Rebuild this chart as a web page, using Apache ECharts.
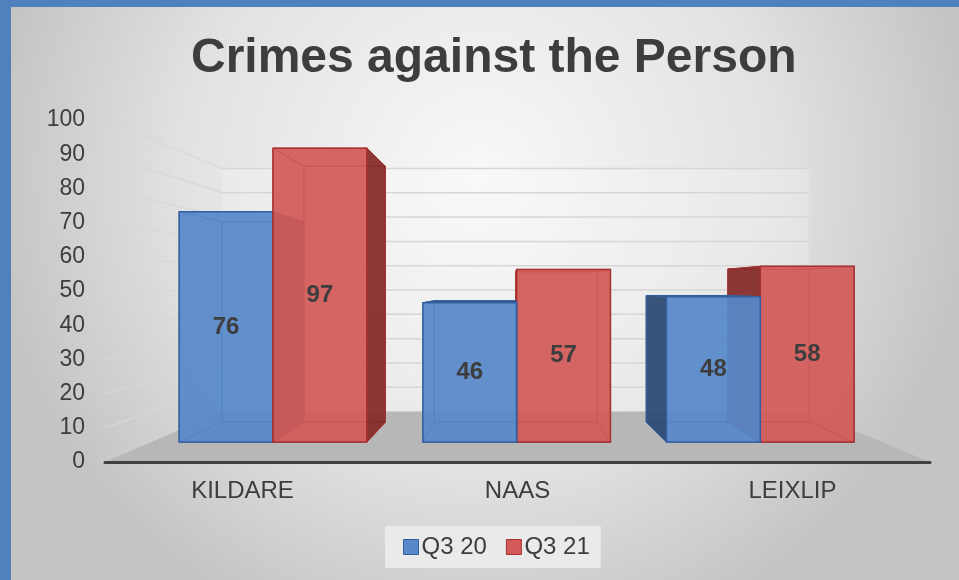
<!DOCTYPE html>
<html>
<head>
<meta charset="utf-8">
<script src="https://cdn.jsdelivr.net/npm/echarts/dist/echarts.min.js"></script>
<style>
  html, body { margin: 0; padding: 0; width: 959px; height: 580px; overflow: hidden; }
  #chart { position: absolute; left: 0; top: 0; width: 959px; height: 580px; }
  .frameTop { position: absolute; left: 0; top: 0; width: 959px; height: 7px; background: #4f81bd; z-index: 5; }
  .frameLeft { position: absolute; left: 0; top: 0; width: 11px; height: 580px; background: #4f81bd; z-index: 5; }
</style>
</head>
<body>
<div id="chart"></div>
<div class="frameTop"></div>
<div class="frameLeft"></div>
<script>
// ---- data ----
const categories = ['KILDARE', 'NAAS', 'LEIXLIP'];
const seriesNames = ['Q3 20', 'Q3 21'];
const q3_20 = [76, 46, 48];
const q3_21 = [97, 57, 58];
const yTicks = [0, 10, 20, 30, 40, 50, 60, 70, 80, 90, 100];

// ---- style / perspective constants ----
const FONT = "'Liberation Sans', Arial, sans-serif";
const TEXT = '#3d3d3d';
const BAR_FRAC = 0.385;     // bar width as fraction of category band
const SF = 0.886;           // depth scale of bar front faces
const SB = 0.771;           // depth scale of bar back faces
const SW = 0.711;           // depth scale of back wall
const VX_FRAC = 0.491;      // vanishing point x as fraction of grid width
const VANISH_VALUE = 51;    // vanishing point height in axis units

const palettes = [
  { face: '88,136,202', edge: '#3360a0', dark: '46,74,114' },
  { face: '210,90,88',  edge: '#a53230', dark: '132,44,42' }
];

function rgba(c, a) { return 'rgba(' + c + ',' + a + ')'; }

function barRender(sIdx) {
  const pal = palettes[sIdx];
  return function (params, api) {
    const cs = params.coordSys;
    const cat = api.value(0), val = api.value(1);
    const band = api.size([1, 0])[0];
    const p0 = api.coord([cat, 0]);
    const pv = api.coord([cat, val]);
    const cx = p0[0], y0 = p0[1], yv = pv[1];
    const bw = band * BAR_FRAC;
    const xL = sIdx === 0 ? cx - bw : cx;
    const xR = xL + bw;
    const V = [cs.x + cs.width * VX_FRAC, api.coord([cat, VANISH_VALUE])[1]];
    const P = (x, y, s) => [V[0] + (x - V[0]) * s, V[1] + (y - V[1]) * s];
    const fLT = P(xL, yv, SF), fRT = P(xR, yv, SF), fRB = P(xR, y0, SF), fLB = P(xL, y0, SF);
    const bLT = P(xL, yv, SB), bRT = P(xR, yv, SB), bRB = P(xR, y0, SB), bLB = P(xL, y0, SB);
    const dist = Math.abs((xL + xR) / 2 - V[0]);
    const base = Math.round(2000 - dist) * 10;

    const hidden = { fill: rgba(pal.face, 0.25), stroke: pal.edge, lineWidth: 1 };
    const visible = { fill: rgba(pal.dark, 0.93), stroke: pal.edge, lineWidth: 1 };
    const children = [];
    const face = (pts, vis) => children.push({
      type: 'polygon', shape: { points: pts }, style: vis ? visible : hidden, z2: base + (vis ? 1 : 0)
    });
    face([bLT, bRT, bRB, bLB], false);
    face([fLB, fRB, bRB, bLB], false);
    face([fLT, fRT, bRT, bLT], bLT[1] < fLT[1]);
    face([fLT, bLT, bLB, fLB], bLT[0] < fLT[0]);
    face([fRT, bRT, bRB, fRB], bRT[0] > fRT[0]);
    children.push({
      type: 'polygon', shape: { points: [fLT, fRT, fRB, fLB] },
      style: { fill: rgba(pal.face, 0.9), stroke: pal.edge, lineWidth: 1.5 }, z2: base + 2
    });
    children.push({
      type: 'text', z2: 100000,
      style: {
        text: String(val), x: (fLT[0] + fRT[0]) / 2, y: (fLT[1] + fLB[1]) / 2,
        align: 'center', verticalAlign: 'middle',
        font: 'bold 24px ' + FONT, fill: TEXT
      }
    });
    return { type: 'group', children: children };
  };
}

function wallRender(params, api) {
  const cs = params.coordSys;
  const v = api.value(1);
  const y = api.coord([0, v])[1];
  const xl = cs.x, xr = cs.x + cs.width;
  const V = [cs.x + cs.width * VX_FRAC, api.coord([0, VANISH_VALUE])[1]];
  const P = (x, yy, s) => [V[0] + (x - V[0]) * s, V[1] + (yy - V[1]) * s];
  const bl = P(xl, y, SW), br = P(xr, y, SW);
  if (v === yTicks[0]) {
    const yTop = api.coord([0, yTicks[yTicks.length - 1]])[1];
    const tl = P(xl, yTop, SW), tr = P(xr, yTop, SW);
    return {
      type: 'group', children: [
        { type: 'polygon', shape: { points: [tl, tr, br, bl] }, style: { fill: 'rgba(255,255,255,0.22)' } },
        { type: 'polygon', shape: { points: [[xl, y], [xr, y], br, bl] }, style: { fill: '#b7b7b7' } }
      ]
    };
  }
  return {
    type: 'group', children: [
      { type: 'line', shape: { x1: xl, y1: y, x2: bl[0], y2: bl[1] }, style: { stroke: 'rgba(215,215,215,0.8)', lineWidth: 1.5 } },
      { type: 'line', shape: { x1: bl[0], y1: bl[1], x2: br[0], y2: br[1] }, style: { stroke: '#d6d6d6', lineWidth: 1.5 } }
    ]
  };
}

const chart = echarts.init(document.getElementById('chart'), null, { renderer: 'canvas' });
const seriesData = [q3_20, q3_21];

chart.setOption({
  backgroundColor: {
    type: 'radial', x: 0.5, y: 0.3, r: 0.85,
    colorStops: [{ offset: 0, color: '#f8f8f8' }, { offset: 0.6, color: '#e2e2e2' }, { offset: 1, color: '#c4c4c4' }]
  },
  animation: false,
  title: {
    text: 'Crimes against the Person', left: 186, top: 30,
    textStyle: { fontFamily: FONT, fontSize: 48, fontWeight: 'bold', color: TEXT }
  },
  legend: {
    left: 385, bottom: 12,
    padding: [9, 11, 9, 18],
    backgroundColor: 'rgba(236,236,236,0.9)',
    itemWidth: 15, itemHeight: 15, itemGap: 19, icon: 'rect',
    textStyle: { fontFamily: FONT, fontSize: 24, color: TEXT, padding: [0, 0, 0, -2] },
    data: [
      { name: seriesNames[0], itemStyle: { color: 'rgb(' + palettes[0].face + ')', borderColor: palettes[0].edge, borderWidth: 1 } },
      { name: seriesNames[1], itemStyle: { color: 'rgb(' + palettes[1].face + ')', borderColor: palettes[1].edge, borderWidth: 1 } }
    ]
  },
  grid: { left: 105, right: 29, top: 120, bottom: 118 },
  xAxis: {
    type: 'category', data: categories,
    axisLine: { show: true, lineStyle: { color: '#404040', width: 3 } },
    axisTick: { show: false },
    axisLabel: { fontFamily: FONT, fontSize: 24, color: TEXT, margin: 17 },
    z: 5
  },
  yAxis: {
    type: 'value', min: 0, max: 100, interval: 10,
    axisLine: { show: false }, axisTick: { show: false }, splitLine: { show: false },
    axisLabel: { fontFamily: FONT, fontSize: 23, color: TEXT, margin: 20 }
  },
  series: [
    {
      type: 'custom', name: 'walls', z: 1, silent: true,
      renderItem: wallRender,
      data: yTicks.map(v => [0, v])
    },
    ...seriesNames.map((name, i) => ({
      type: 'custom', name: name, z: 2,
      itemStyle: { color: 'rgb(' + palettes[i].face + ')' },
      renderItem: barRender(i),
      encode: { x: 0, y: 1 },
      data: categories.map((c, k) => [k, seriesData[i][k]])
    }))
  ]
});
</script>
</body>
</html>
